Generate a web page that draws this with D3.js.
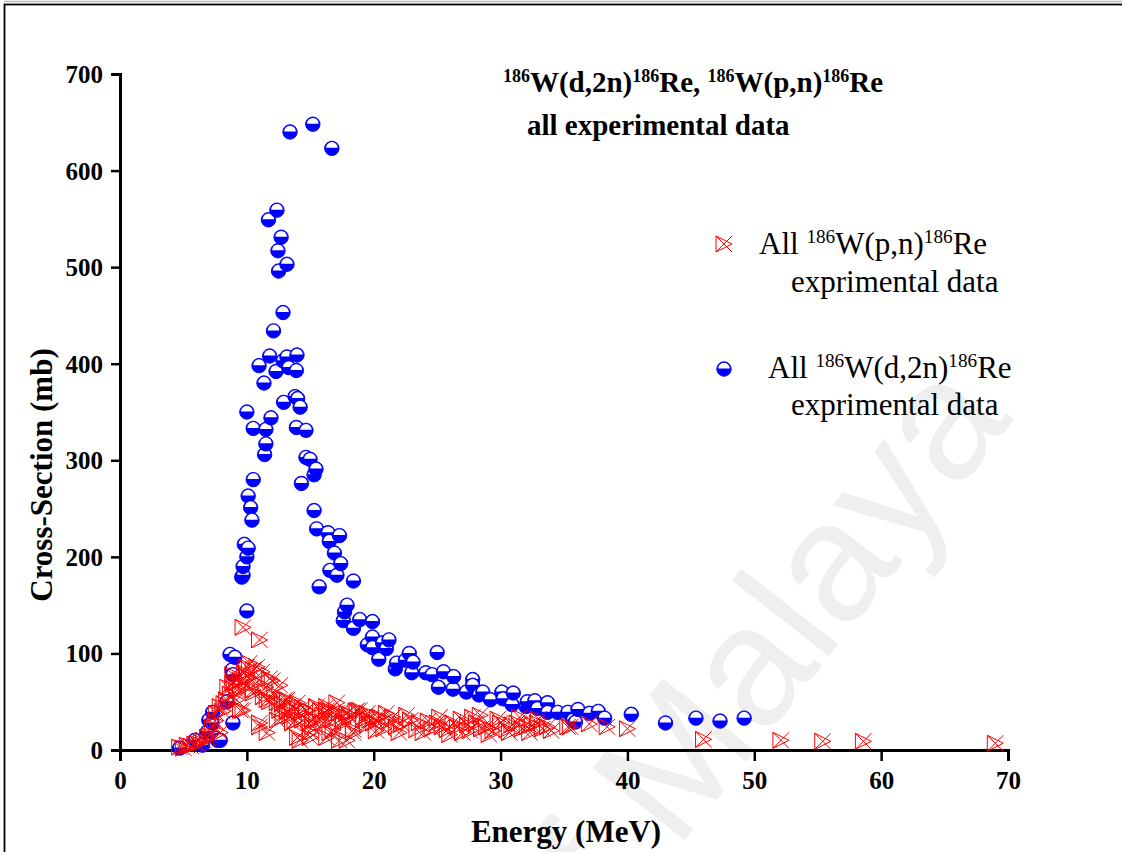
<!DOCTYPE html>
<html>
<head>
<meta charset="utf-8">
<script src="https://cdn.jsdelivr.net/npm/d3@7"></script>
<style>
  html, body { margin: 0; padding: 0; background: #fff; }
  svg { display: block; }
  text { font-family: "Liberation Serif", "Times New Roman", serif; }
</style>
</head>
<body>
<svg id="chart" width="1122" height="852"></svg>
<script>
// ---- data (Energy MeV, cross-section mb) ----
const pnEnergy = [4.7,5.0,5.3,5.6,5.9,6.1,6.4,6.6,6.9,7.1,7.3,7.5,7.6,7.9,7.9,8.1,8.2,8.4,8.5,8.7,8.9,9.0,9.2,9.5,9.5,9.7,9.8,10.0,10.0,10.2,10.5,10.5,10.8,11.0,11.0,11.3,11.5,11.6,11.8,12.0,12.2,12.4,12.6,12.8,13.0,13.2,13.4,13.6,13.8,14.0,14.2,14.4,14.7,14.9,15.0,15.2,15.5,15.8,16.0,16.3,16.3,16.55,16.55,16.8,17.1,17.3,17.6,17.9,17.9,18.1,18.4,18.6,18.9,19.2,19.5,19.7,20.0,20.5,20.8,21.2,21.5,21.8,22.2,22.9,23.4,23.9,24.3,25.0,25.4,25.8,26.25,26.6,27.0,27.4,27.8,28.1,28.5,28.9,29.4,30.0,30.5,30.9,31.3,31.7,32.1,32.5,32.9,33.3,33.7,35.3,35.5,37.0,38.4,40.0,46.0,52.1,55.4,58.6,69.0,
  10.2,10.8,11.8,12.6,8.9,9.5,10.5,11.6,12.4,13.2,14.0,14.7,15.5,16.3,17.1,17.9,18.7,19.5,20.3,12.85,13.6,14.4,15.2,16.0,16.8,17.6,18.4,19.2,11.0,14.2,15.0,17.3,9.7,9.2,10.0,11.2,
  20.2,21.0,22.0,22.6,23.6,24.6,25.2,26.0,26.9,27.6,28.4,29.1,29.8,30.7,31.5,32.3,33.0,34.0];
const pnSigma  = [3,2,5,4,6,7,8,10,13,15,24,30,38,18,45,40,48,52,65,58,78,70,62,72,41,127,80,86,67,75,83,62,70,114,28,55,65,18,50,72,58,31,41,48,52,40,35,45,30,13,38,44,41,28,18,31,31,41,36,45,13,41,18,31,38,38,30,38,10,34,18,40,41,34,26,31,28,34,22,30,34,24,27,31,21,18,30,28,24,21,28,24,18,26,34,28,22,24,20,28,21,26,28,22,24,26,28,22,24,24,24,27,24,22,11,10,9,9,7,
  90,86,74,67,69,62,59,52,49,52,49,41,45,41,49,38,41,38,34,34,28,31,24,28,21,28,21,31,24,10,13,10,41,52,76,81,
  20,38,18,36,28,22,34,16,32,20,36,16,32,18,34,18,32,20];

const d2nEnergy = [4.7,5.9,6.5,6.9,7.0,7.25,7.3,7.6,7.7,7.9,8.43,8.67,8.83,8.9,8.9,9.06,9.6,9.7,9.7,9.8,10.0,10.0,10.0,10.1,10.1,10.3,10.4,10.5,10.5,10.96,11.35,11.4,11.5,11.5,11.7,11.8,11.9,12.1,12.3,12.37,12.45,12.5,12.7,12.85,12.85,12.9,13.16,13.16,13.3,13.4,13.8,13.9,13.9,13.95,14.0,14.2,14.3,14.66,14.66,14.98,15.2,15.3,15.3,15.45,15.5,15.7,16.4,16.5,16.55,16.7,16.9,17.1,17.3,17.4,17.6,17.7,17.9,18.4,18.4,18.9,19.5,19.9,19.9,19.9,20.4,20.7,21.0,21.2,21.7,21.8,22.5,22.8,23.0,23.1,24.1,24.6,25.0,25.1,25.5,26.25,26.3,27.3,27.8,27.8,28.3,28.6,29.2,30.1,30.2,30.9,31.0,32.0,32.1,32.7,32.9,33.7,33.7,34.5,35.3,35.7,35.9,36.1,37.0,37.7,38.2,40.3,43.0,45.4,47.3,49.2];
const d2nSigma  = [2,10,5,19,31,28,39,12,10,10,50,99,83,78,28,96,179,181,190,213,200,144,350,209,263,251,238,280,333,398,380,306,317,332,549,408,344,434,392,559,517,496,531,403,453,360,407,503,396,640,366,334,393,409,364,355,276,331,303,301,648,285,248,291,229,169,225,216,186,623,204,181,222,193,134,143,150,175,126,135,109,133,117,106,94,111,105,114,84,90,93,100,80,91,80,78,101,65,81,63,76,60,73,67,57,60,52,60,53,47,59,45,50,51,43,49,39,39,39,31,29,42,38,40,33,37,28,33,30,33];

const xTicks = [0,10,20,30,40,50,60,70];
const yTicks = [0,100,200,300,400,500,600,700];

const svg = d3.select("#chart");

// frame round the picture
svg.append("line").attr("x1", 4).attr("x2", 1122).attr("y1", 1.5).attr("y2", 1.5)
   .attr("stroke", "#bbb").attr("stroke-width", 1.5);
svg.append("rect").attr("x", 4.5).attr("y", 4.5).attr("width", 1300).attr("height", 1000)
   .attr("fill", "none").attr("stroke", "#000").attr("stroke-width", 1.8);

// watermark
svg.append("text")
   .attr("transform", "translate(560,1000) rotate(-52)")
   .style("font-family", "'Liberation Sans', Arial, sans-serif")
   .attr("font-size", 170)
   .attr("fill", "#efefef")
   .text("of Malaya");

const x = d3.scaleLinear().domain([0, 70]).range([120, 1008]);
const y = d3.scaleLinear().domain([0, 700]).range([750, 74]);

// ---- axes ----
const xMinor = d3.range(5, 70, 10);
const yMinor = d3.range(50, 700, 100);

const gx = svg.append("g").attr("transform", `translate(0,${y(0)})`);
gx.call(d3.axisBottom(x).tickValues(xMinor).tickSize(6).tickFormat(""));
gx.call(d3.axisBottom(x).tickValues(xTicks).tickSize(11).tickPadding(10).tickFormat(d3.format("d")));

const gy = svg.append("g").attr("transform", `translate(${x(0)},0)`);
gy.call(d3.axisLeft(y).tickValues(yMinor).tickSize(6).tickFormat(""));
gy.call(d3.axisLeft(y).tickValues(yTicks).tickSize(9).tickPadding(8).tickFormat(d3.format("d")));

[gx, gy].forEach(g => {
  g.selectAll("path.domain").attr("stroke", "#000").attr("stroke-width", 3);
  g.selectAll(".tick line").attr("stroke", "#000").attr("stroke-width", 2.5);
  g.selectAll(".tick text")
   .style("font-family", "'Liberation Serif', 'Times New Roman', serif")
   .attr("font-size", 25).attr("font-weight", "bold").attr("fill", "#000");
});
gy.selectAll(".tick text").attr("dy", "0.34em");

// axis titles
svg.append("text")
   .attr("x", 566).attr("y", 842)
   .attr("text-anchor", "middle").attr("font-size", 31).attr("font-weight", "bold")
   .text("Energy (MeV)");
svg.append("text")
   .attr("transform", "translate(52,475) rotate(-90)")
   .attr("text-anchor", "middle").attr("font-size", 31).attr("font-weight", "bold")
   .text("Cross-Section (mb)");

// ---- markers ----
function halfBall(g, cx, cy) {
  g.append("circle").attr("cx", cx).attr("cy", cy).attr("r", 7.2)
   .attr("fill", "#0000ff").attr("stroke", "#0000ff").attr("stroke-width", 1);
  g.append("path")
   .attr("d", `M${cx - 5.8},${cy - 0.5} A5.8,5.8 0 0 1 ${cx + 5.8},${cy - 0.5} Z`)
   .attr("fill", "#fff");
}
const s = 8;
const crossPath = `M${-s},${-s}L${s},${s}M${-s},${s}L${s},${-s}M${-s},${-s}L${-s},${s}M${-s},${-s}L${s},0L${-s},${s}`;
function boxCross(g, cx, cy) {
  g.append("path").attr("d", crossPath).attr("transform", `translate(${cx},${cy})`)
   .attr("fill", "none").attr("stroke", "#ff0000").attr("stroke-width", 1);
}

const blue = svg.append("g");
d2nEnergy.forEach((e, i) => halfBall(blue, x(e), y(d2nSigma[i])));

const red = svg.append("g");
pnEnergy.forEach((e, i) => boxCross(red, x(e), y(pnSigma[i])));

// ---- title ----
function sup(t, str) {
  t.append("tspan").attr("font-size", "0.62em").attr("dy", "-0.55em").text(str);
}
function base(t, str) {
  t.append("tspan").attr("dy", "0.34em").text(str);
}
const t1 = svg.append("text").attr("x", 503).attr("y", 92).attr("font-size", 29).attr("font-weight", "bold");
sup(t1, "186"); base(t1, "W(d,2n)"); sup(t1, "186"); base(t1, "Re, ");
sup(t1, "186"); base(t1, "W(p,n)"); sup(t1, "186"); base(t1, "Re");
svg.append("text").attr("x", 527).attr("y", 135).attr("font-size", 29).attr("font-weight", "bold")
   .text("all experimental data");

// ---- legend ----
boxCross(svg, 724, 244);
const l1 = svg.append("text").attr("x", 759).attr("y", 254).attr("font-size", 31);
l1.append("tspan").text("All ");
sup(l1, "186"); base(l1, "W(p,n)"); sup(l1, "186"); base(l1, "Re");
svg.append("text").attr("x", 791).attr("y", 292).attr("font-size", 31).text("exprimental data");

halfBall(svg, 724, 369);
const l2 = svg.append("text").attr("x", 768).attr("y", 378).attr("font-size", 31);
l2.append("tspan").text("All ");
sup(l2, "186"); base(l2, "W(d,2n)"); sup(l2, "186"); base(l2, "Re");
svg.append("text").attr("x", 791).attr("y", 415).attr("font-size", 31).text("exprimental data");
</script>
</body>
</html>
